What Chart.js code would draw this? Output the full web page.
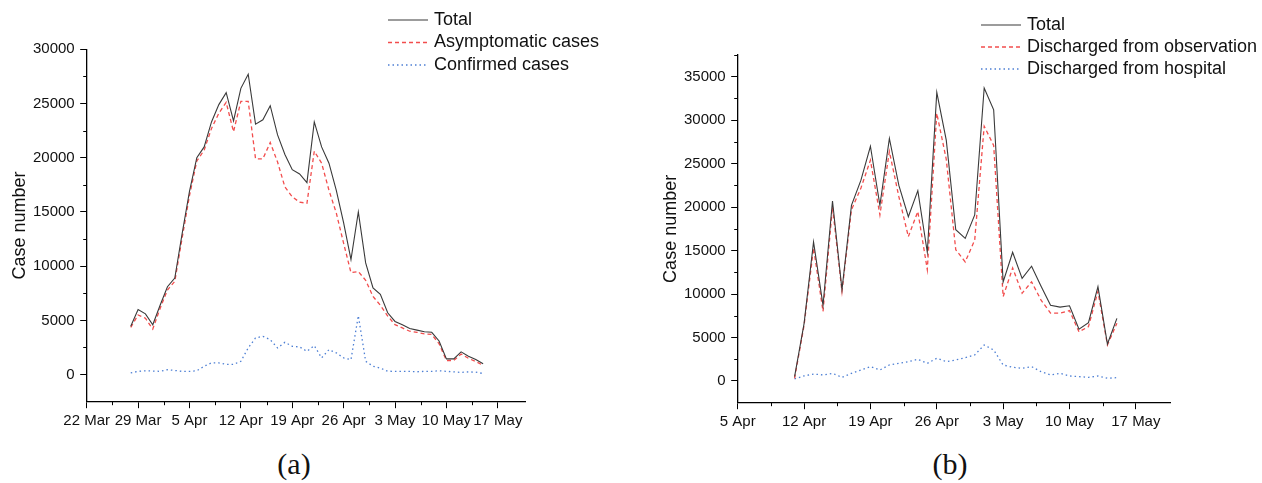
<!DOCTYPE html>
<html>
<head>
<meta charset="utf-8">
<script src="https://cdn.jsdelivr.net/npm/chart.js"></script>
<style>
  html, body { margin: 0; padding: 0; background: #fff; }
  body { width: 1262px; height: 483px; position: relative; overflow: hidden; }
  canvas { position: absolute; top: 0; }
  #chartA { left: 0; }
  #chartB { left: 631px; }
  .caption { position: absolute; top: 447px; width: 80px; line-height: 34px; text-align: center;
             font: 30px "Liberation Serif", "Times New Roman", serif; color: #111; }
</style>
</head>
<body>
<canvas id="chartA" width="631" height="440"></canvas>
<canvas id="chartB" width="631" height="440"></canvas>
<div class="caption" style="left:254px">(a)</div>
<div class="caption" style="left:910px">(b)</div>

<script>
// (a) daily new cases, first point is 28 Mar (day 6 counted from 22 Mar)
const startDayA = 6;
const ticksA = ['22 Mar', '29 Mar', '5 Apr', '12 Apr', '19 Apr', '26 Apr', '3 May', '10 May', '17 May'];
const totalA = [4450, 6000, 5600, 4600, 6400, 8100, 8900, 13000, 16900, 20000,
  21000, 23300, 24900, 26000, 23400, 26400, 27700, 23100, 23500, 24800,
  22100, 20300, 18900, 18500, 17700, 23300, 21000, 19500, 17000, 14000,
  10600, 15000, 10300, 8000, 7400, 5700, 4900, 4600, 4250, 4100,
  3950, 3900, 3100, 1450, 1450, 2100, 1700, 1400, 1000];
const asymptomaticA = [4350, 5500, 5200, 4200, 6100, 7800, 8600, 12600, 16500, 19700,
  20700, 22700, 24100, 25100, 22400, 25200, 25200, 19900, 19900, 21400,
  19600, 17300, 16400, 15900, 15800, 20600, 19500, 17000, 14900, 12100,
  9400, 9500, 8700, 7200, 6400, 5400, 4600, 4300, 4000, 3900,
  3750, 3700, 2850, 1300, 1300, 1900, 1500, 1200, 850];
const confirmedA = [150, 300, 350, 330, 300, 450, 380, 300, 300, 350,
  770, 1080, 1080, 950, 950, 1230, 2460, 3380, 3530, 3220,
  2460, 2980, 2610, 2550, 2150, 2670, 1540, 2300, 2000, 1540,
  1380, 5430, 1230, 770, 600, 310, 300, 300, 300, 260,
  300, 300, 350, 300, 250, 200, 250, 220, 100];

// (b) daily discharges, first point is 11 Apr (day 6 counted from 5 Apr)
const startDayB = 6;
const ticksB = ['5 Apr', '12 Apr', '19 Apr', '26 Apr', '3 May', '10 May', '17 May'];
const totalB = [500, 6600, 16000, 8700, 20700, 10500, 20200, 23100, 27000, 20200,
  27900, 22500, 18900, 21900, 14800, 33200, 27700, 17400, 16400, 19100,
  33700, 31200, 11400, 14800, 11800, 13200, 10900, 8700, 8500, 8650,
  5950, 6700, 10850, 4250, 7200];
const observationB = [300, 6400, 15300, 8000, 20000, 10300, 19700, 22200, 25400, 19100,
  26400, 21200, 16600, 19500, 12800, 30800, 25500, 15100, 13700, 16200,
  29300, 27100, 9700, 13000, 10100, 11400, 9300, 7800, 7800, 8100,
  5650, 6250, 10300, 4150, 6650];
const hospitalB = [250, 575, 800, 690, 880, 420, 880, 1265, 1650, 1265,
  1840, 2030, 2220, 2490, 2030, 2610, 2220, 2415, 2680, 2990,
  4140, 3565, 1840, 1575, 1460, 1650, 1070, 690, 880, 575,
  500, 420, 575, 310, 380];

const FONT = '"Liberation Sans", Arial, sans-serif';
const X_STEP = 7;
const Y_STEP = 5000;

function toPoints(start, values) {
  return values.map((v, i) => ({ x: start + i, y: v }));
}

// legend drawn as short line samples with the series' own dash style
const lineLegend = {
  id: 'lineLegend',
  afterDraw(chart, args, opts) {
    const ctx = chart.ctx;
    ctx.save();
    ctx.font = '18px ' + FONT;
    ctx.textBaseline = 'middle';
    chart.data.datasets.forEach((ds, i) => {
      const y = opts.y + i * opts.gap;
      ctx.strokeStyle = ds.borderColor;
      ctx.lineWidth = ds.borderWidth;
      ctx.setLineDash(ds.borderDash || []);
      ctx.beginPath();
      ctx.moveTo(opts.x, y);
      ctx.lineTo(opts.x + 40, y);
      ctx.stroke();
      ctx.setLineDash([]);
      ctx.fillStyle = '#111';
      ctx.fillText(ds.label, opts.x + 46, y);
    });
    ctx.restore();
  }
};

// short ticks halfway between the labelled ones
const minorTicks = {
  id: 'minorTicks',
  afterDraw(chart) {
    const { ctx, scales: { x, y } } = chart;
    const len = 3.5;
    ctx.save();
    ctx.strokeStyle = '#000';
    ctx.lineWidth = 1;
    ctx.beginPath();
    x.ticks.slice(0, -1).forEach(t => {
      const px = Math.round(x.getPixelForValue(t.value + X_STEP / 2)) + 0.5;
      ctx.moveTo(px, x.top);
      ctx.lineTo(px, x.top + len);
    });
    y.ticks.forEach(t => {
      const v = t.value + Y_STEP / 2;
      if (v > y.max) return;
      const py = Math.round(y.getPixelForValue(v)) + 0.5;
      ctx.moveTo(y.right, py);
      ctx.lineTo(y.right - len, py);
    });
    ctx.stroke();
    ctx.restore();
  }
};

function makeChart(id, o) {
  const series = [
    { label: o.names[0], data: toPoints(o.start, o.values[0]), borderColor: '#3a3a3a', borderWidth: 1.1 },
    { label: o.names[1], data: toPoints(o.start, o.values[1]), borderColor: '#f24d4d', borderWidth: 1.3, borderDash: [4, 3] },
    { label: o.names[2], data: toPoints(o.start, o.values[2]), borderColor: '#4d7fd4', borderWidth: 1.3, borderDash: [1.5, 3] }
  ];
  series.forEach(s => { s.pointRadius = 0; s.fill = false; s.tension = 0; });

  return new Chart(document.getElementById(id), {
    type: 'line',
    data: { datasets: series },
    plugins: [lineLegend, minorTicks],
    options: {
      responsive: false,
      animation: false,
      layout: { padding: o.padding },
      plugins: {
        legend: { display: false },
        tooltip: { enabled: false },
        lineLegend: o.legend
      },
      scales: {
        x: {
          type: 'linear',
          min: 0,
          max: o.xMax,
          grid: { drawOnChartArea: false, color: '#000', tickLength: 6.5 },
          border: { color: '#000', width: 1.3 },
          ticks: {
            stepSize: X_STEP / 2,
            autoSkip: false,
            maxRotation: 0,
            includeBounds: false,
            padding: 3.5,
            color: '#111',
            font: { family: FONT, size: 15 },
            callback: v => o.tickLabels[v / X_STEP]
          },
          afterBuildTicks: s => {
            s.ticks = s.ticks.filter(t => t.value % X_STEP === 0 && t.value / X_STEP < o.tickLabels.length);
          },
          afterFit: s => { s.height = o.xHeight; }
        },
        y: {
          min: -2500,
          max: o.yMax,
          grid: { drawOnChartArea: false, color: '#000', tickLength: 6.5 },
          border: { color: '#000', width: 1.3 },
          ticks: {
            stepSize: Y_STEP / 2,
            autoSkip: false,
            includeBounds: false,
            padding: 5.5,
            color: '#111',
            font: { family: FONT, size: 15 },
            callback: v => String(v)
          },
          afterBuildTicks: s => {
            s.ticks = s.ticks.filter(t => t.value % Y_STEP === 0);
          },
          title: {
            display: true,
            text: 'Case number',
            color: '#111',
            font: { family: FONT, size: 18 },
            padding: { top: 9, bottom: 0 }
          },
          afterFit: s => { s.width = 86.7; }
        }
      }
    }
  });
}

makeChart('chartA', {
  start: startDayA,
  names: ['Total', 'Asymptomatic cases', 'Confirmed cases'],
  values: [totalA, asymptomaticA, confirmedA],
  tickLabels: ticksA,
  xMax: 59.8,
  yMax: 30000,
  xHeight: 38.3,
  padding: { left: 0, right: 105.3, top: 49.3, bottom: 0 },
  legend: { x: 388, y: 20, gap: 22.5 }
});

makeChart('chartB', {
  start: startDayB,
  names: ['Total', 'Discharged from observation', 'Discharged from hospital'],
  values: [totalB, observationB, hospitalB],
  tickLabels: ticksB,
  xMax: 45.6,
  yMax: 37500,
  xHeight: 37.3,
  padding: { left: 20, right: 92, top: 55, bottom: 0 },
  legend: { x: 350, y: 25, gap: 22 }
});
</script>
</body>
</html>
